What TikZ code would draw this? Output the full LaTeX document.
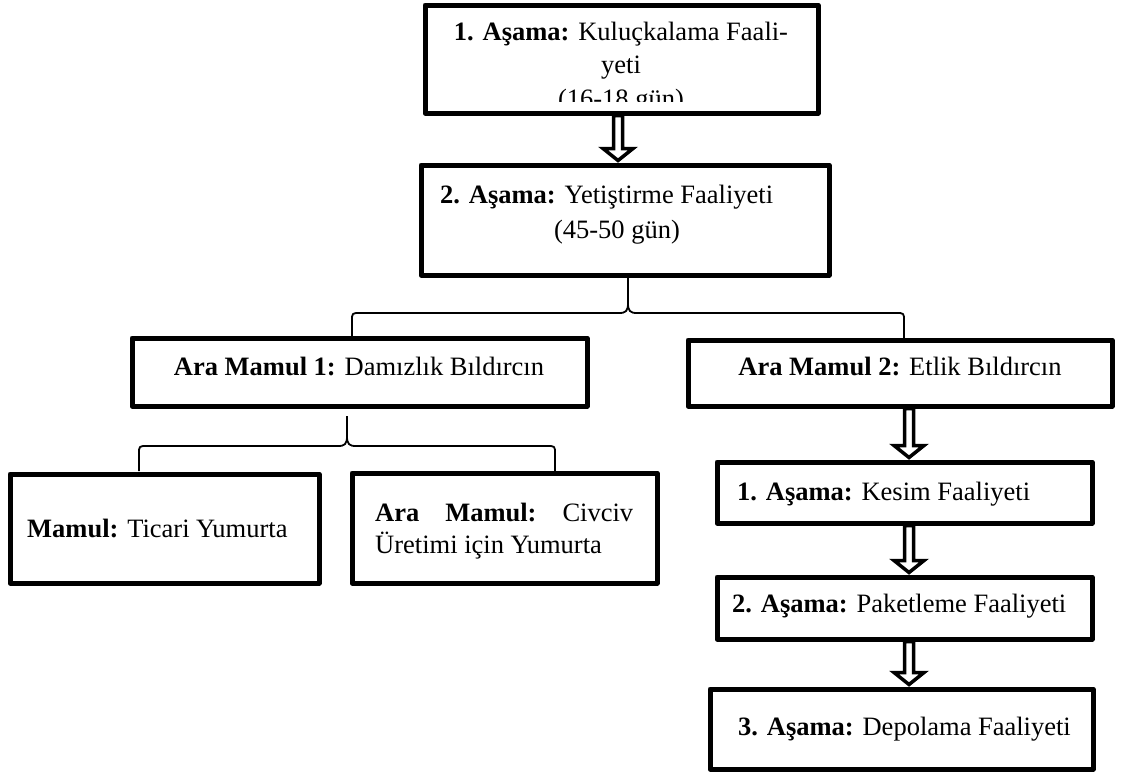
\documentclass[tikz,border=0pt]{standalone}
\usepackage{fontspec}
\setmainfont{Liberation Serif}
\usetikzlibrary{backgrounds,calc}
\begin{document}
\begin{tikzpicture}[x=1pt,y=-1pt,
  box/.style={draw, line width=5pt, line join=round, inner sep=0pt},
  txt/.style={font=\fontsize{26.5}{34}\selectfont, inner sep=0pt, anchor=base},
  txtl/.style={txt, anchor=base west},
  brace/.style={draw, line width=1.8pt, line join=round},
  blockarrow/.style={draw, line width=3.5pt, fill=white, line join=miter}]
\useasboundingbox (0,0) rectangle (1135,772);
\newcommand\boxat[5]{\node[box, minimum width={#4-#2}, minimum height={#5-#3}] (#1) at ({(#2+#4)/2},{(#3+#5)/2}) {};}
\newcommand\blkarrow[3]{%
  \begin{scope}[on background layer]
  \draw[blockarrow] let \p1=(#1.south), \p2=(#2.north) in
    (#3-4.5pt,\y1) -- (#3-4.5pt,\y2+14pt) -- (#3-15pt,\y2+14pt) -- (#3,\y2+2pt)
    -- (#3+15pt,\y2+14pt) -- (#3+4.5pt,\y2+14pt) -- (#3+4.5pt,\y1) -- cycle;
  \end{scope}}
% boxes
\boxat{b1}{425}{5}{818}{113}
\boxat{b2}{421}{165}{829}{275}
\boxat{am1}{132}{338}{587}{406}
\boxat{am2}{688}{340}{1112}{406}
\boxat{m}{10}{474}{319}{583}
\boxat{ara}{352}{473}{657}{583}
\boxat{k1}{717}{462}{1092}{523}
\boxat{k2}{717}{577}{1092}{639}
\boxat{k3}{710}{689}{1093}{769}
% texts
\begin{scope}
\clip (425,5) rectangle (818,101);
\node[txt] (t1a) at (621,40) {\textbf{1. Aşama:} Kuluçkalama Faali-};
\node[txt] (t1b) at (621,73) {yeti};
\node[txt] (t1c) at (621,107) {(16-18 gün)};
\end{scope}
\node[txtl] (t2a) at (440,203) {\textbf{2. Aşama:} Yetiştirme Faaliyeti};
\node[txt] (t2b) at (617,238) {(45-50 gün)};
\node[txt] (tam1) at (359,375) {\textbf{Ara Mamul 1:} Damızlık Bıldırcın};
\node[txt] (tam2) at (900,375) {\textbf{Ara Mamul 2:} Etlik Bıldırcın};
\node[txtl] (tm) at (27,537) {\textbf{Mamul:} Ticari Yumurta};
\node[txtl] (tara1) at (375,521) {\makebox[258pt][s]{\textbf{Ara}\hfill\textbf{Mamul:}\hfill Civciv}};
\node[txtl] (tara2) at (375,553) {Üretimi için Yumurta};
\node[txtl] (tk1) at (737,500) {\textbf{1. Aşama:} Kesim Faaliyeti};
\node[txtl] (tk2) at (732,612) {\textbf{2. Aşama:} Paketleme Faaliyeti};
\node[txtl] (tk3) at (738,735) {\textbf{3. Aşama:} Depolama Faaliyeti};
% arrows
\blkarrow{b1}{b2}{618pt}
\blkarrow{am2}{k1}{909pt}
\blkarrow{k1}{k2}{909pt}
\blkarrow{k2}{k3}{909pt}
% braces
\coordinate (br1l) at (352,337);
\coordinate (br1r) at (904,338);
\coordinate (br1t) at (628,278);
\draw[brace] (br1l) -- (352,321) .. controls (352,313) .. (360,313) -- (619,313)
  .. controls (626,313) and (628,311) .. (628,303) -- (br1t);
\draw[brace] (628,303) .. controls (628,311) and (630,313) .. (637,313) -- (896,313)
  .. controls (904,313) .. (904,321) -- (br1r);
\coordinate (br2l) at (139,471);
\coordinate (br2r) at (555,471);
\coordinate (br2t) at (347,416);
\draw[brace] (br2l) -- (139,454) .. controls (139,446) .. (147,446) -- (338,446)
  .. controls (345,446) and (347,444) .. (347,436) -- (br2t);
\draw[brace] (347,436) .. controls (347,444) and (349,446) .. (356,446) -- (547,446)
  .. controls (555,446) .. (555,454) -- (br2r);
\end{tikzpicture}
\end{document}
